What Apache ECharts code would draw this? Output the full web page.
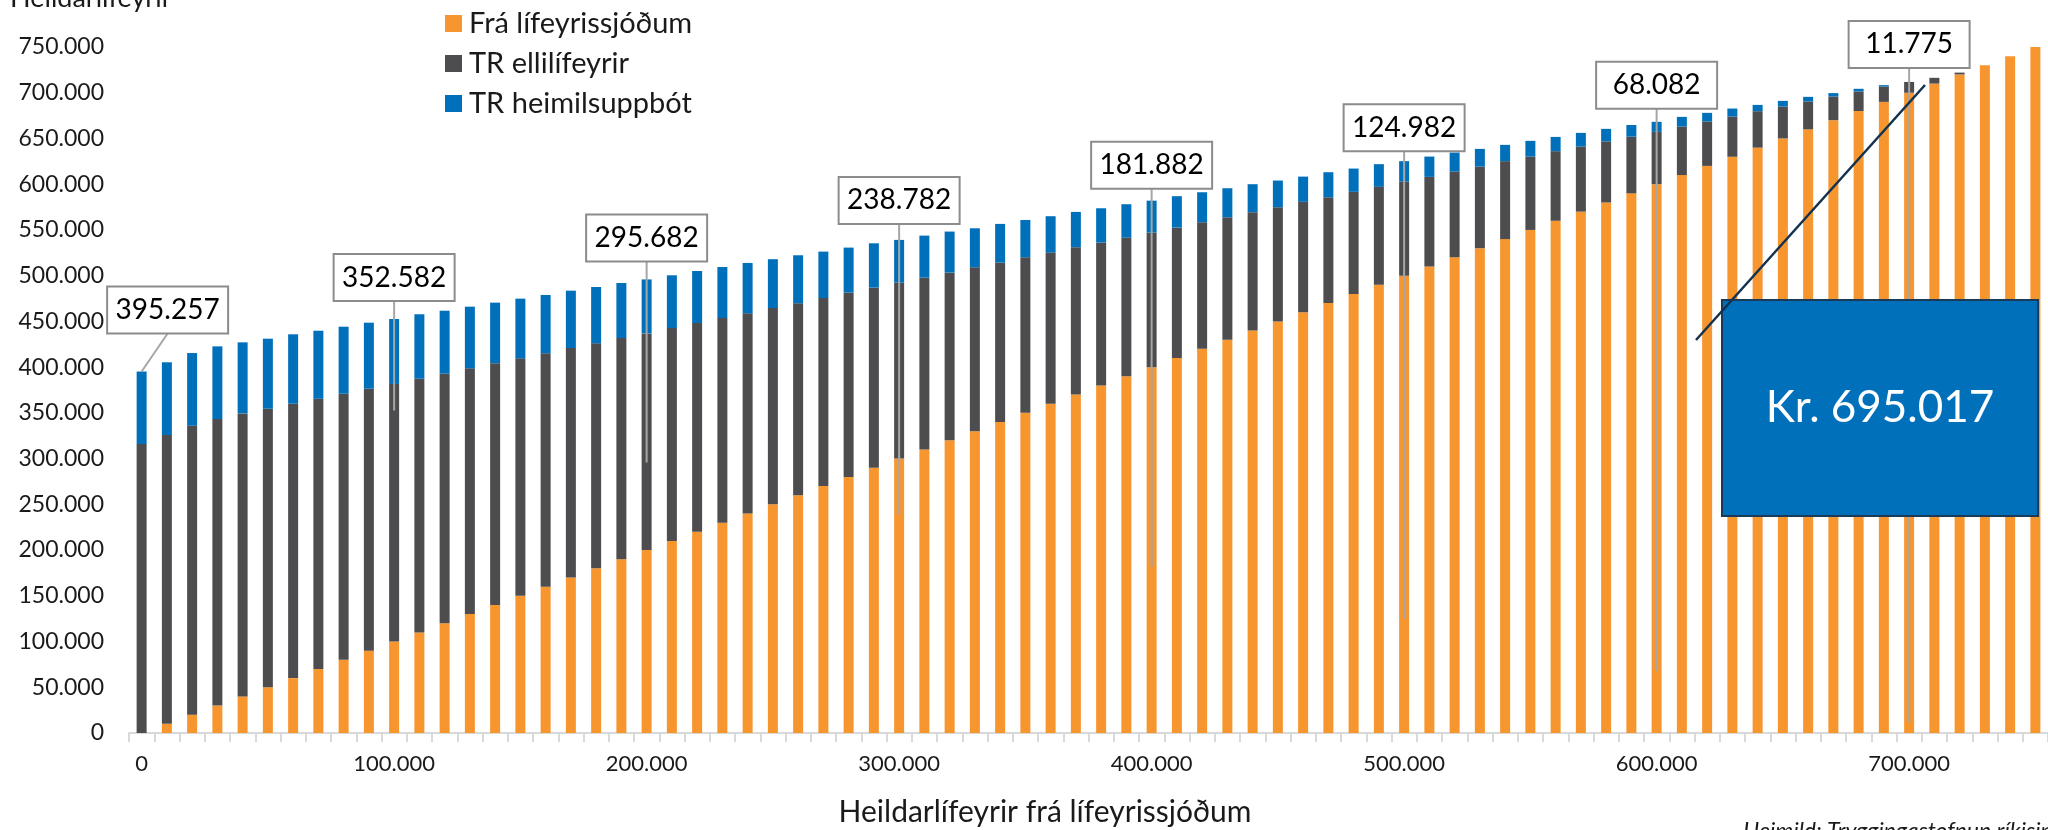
<!DOCTYPE html>
<html><head><meta charset="utf-8">
<script src="https://cdn.jsdelivr.net/npm/echarts@6/dist/echarts.min.js"></script>
<style>html,body{margin:0;padding:0;background:#fff}#c{width:2048px;height:830px}</style>
</head><body><div id="c"></div>
<script>
// ---- data ----
const categories = [0,10000,20000,30000,40000,50000,60000,70000,80000,90000,
  100000,110000,120000,130000,140000,150000,160000,170000,180000,190000,
  200000,210000,220000,230000,240000,250000,260000,270000,280000,290000,
  300000,310000,320000,330000,340000,350000,360000,370000,380000,390000,
  400000,410000,420000,430000,440000,450000,460000,470000,480000,490000,
  500000,510000,520000,530000,540000,550000,560000,570000,580000,590000,
  600000,610000,620000,630000,640000,650000,660000,670000,680000,690000,
  700000,710000,720000,730000,740000,750000];
const fraLifeyrissjodum = [0,10000,20000,30000,40000,50000,60000,70000,80000,90000,
  100000,110000,120000,130000,140000,150000,160000,170000,180000,190000,
  200000,210000,220000,230000,240000,250000,260000,270000,280000,290000,
  300000,310000,320000,330000,340000,350000,360000,370000,380000,390000,
  400000,410000,420000,430000,440000,450000,460000,470000,480000,490000,
  500000,510000,520000,530000,540000,550000,560000,570000,580000,590000,
  600000,610000,620000,630000,640000,650000,660000,670000,680000,690000,
  700000,710000,720000,730000,740000,750000];
const trEllilifeyrir = [315900,315800,315900,313200,309400,304500,300000,295400,290900,286400,
  281600,277300,272800,268700,264300,259600,255100,250900,246000,241800,
  236900,232700,228200,223700,218800,214600,209800,205600,201400,196900,
  192300,187800,183300,179200,174200,170100,165200,161100,156100,151600,
  147000,142500,138400,133900,129400,124800,120700,115800,111600,107100,
  102900,98000,93800,89300,85200,80200,76100,71200,66800,62000,
  57200,53000,48500,44000,39800,34900,30400,25900,21300,16800,
  11800,6300,2000,0,0,0];
const trHeimilisuppbot = [79300,79500,79500,79500,77700,76600,75900,74400,73300,72200,
  71000,70500,68900,67400,66200,65300,63800,62700,61600,60200,
  59000,57700,56900,55800,55100,53400,52500,50700,49300,48500,
  46800,46000,44900,42600,42400,40800,39800,38600,37600,36500,
  35000,34400,32800,31700,30600,29200,27600,27300,25500,24800,
  22300,22200,20800,19300,17800,17200,15600,14900,13700,12700,
  11000,10600,9500,8700,6900,6200,5100,3700,3000,1500,
  0,0,0,0,0,0];
const seriesNames = ['Frá lífeyrissjóðum','TR ellilífeyrir','TR heimilsuppbót'];
const calloutCategories = [0,100000,200000,300000,400000,500000,600000,700000];
const calloutLabels = ['395.257','352.582','295.682','238.782','181.882','124.982','68.082','11.775'];
const calloutValues = [395257,352582,295682,238782,181882,124982,68082,11775];
const highlightLabel = 'Kr. 695.017';
const yAxisTitle = 'Heildarlífeyrir';
const xAxisTitle = 'Heildarlífeyrir frá lífeyrissjóðum';
const sourceText = 'Heimild: Tryggingastofnun ríkisins';

// ---- layout / style ----
const FONT = 'Lato, "Open Sans", sans-serif';
const colors = ['#F7962F','#4D4D4F','#0070BA'];
const boxW = 121, boxH = 47;
const boxDX = [26,0,0,0,0,0,0,0];
const boxGap = [38,18,18,16,12,10,13,14];

function fmt(n){ return String(n).replace(/\B(?=(\d{3})+(?!\d))/g,'.'); }

const chart = echarts.init(document.getElementById('c'));
const stackData = [fraLifeyrissjodum, trEllilifeyrir, trHeimilisuppbot];
chart.setOption({
  animation:false,
  backgroundColor:'#fff',
  grid:{left:129, right:0, top:47, bottom:97, containLabel:false},
  legend:{
    orient:'vertical', left:440, top:4, itemWidth:17, itemHeight:17, itemGap:11,
    icon:'rect', data:seriesNames,
    textStyle:{fontFamily:FONT, fontSize:29, color:'#1a1a1a', lineHeight:29, padding:[0,0,0,2]}
  },
  xAxis:{
    type:'category', data:categories,
    axisLine:{lineStyle:{color:'#D9D9D9', width:2}},
    axisTick:{show:true, interval:0, length:9, lineStyle:{color:'#D9D9D9', width:2}},
    axisLabel:{interval:9, formatter:v=>fmt(v), fontFamily:FONT, fontSize:22, color:'#1a1a1a', margin:20}
  },
  yAxis:{
    type:'value', min:0, max:750000, interval:50000,
    axisLine:{show:false}, axisTick:{show:false}, splitLine:{show:false},
    axisLabel:{formatter:v=>fmt(v), fontFamily:FONT, fontSize:23, color:'#1a1a1a', margin:25}
  },
  series: seriesNames.map((n,i)=>({
    name:n, type:'bar', stack:'total', barWidth:10, data:stackData[i],
    itemStyle:{color:colors[i]}
  }))
});

// ---- annotations ----
const g = [];
calloutCategories.forEach((c,i)=>{
  const idx = categories.indexOf(c);
  const total = fraLifeyrissjodum[idx] + trEllilifeyrir[idx] + trHeimilisuppbot[idx];
  const top = chart.convertToPixel({xAxisIndex:0,yAxisIndex:0},[idx,total]);
  const anchor = chart.convertToPixel({xAxisIndex:0,yAxisIndex:0},[idx,calloutValues[i]]);
  const cx = top[0] + boxDX[i];
  const bottom = top[1] - boxGap[i];
  g.push({type:'line', z:100, shape:{x1:cx, y1:bottom, x2:anchor[0], y2:anchor[1]},
    style:{stroke:'#A6A6A6', lineWidth:2}});
  g.push({type:'rect', z:101, shape:{x:cx-boxW/2, y:bottom-boxH, width:boxW, height:boxH},
    style:{fill:'#fff', stroke:'#8C8C8C', lineWidth:2}});
  g.push({type:'text', z:102, style:{text:calloutLabels[i], x:cx, y:bottom-boxH/2,
    textAlign:'center', textVerticalAlign:'middle', align:'center', verticalAlign:'middle',
    font:'28px '+FONT, fill:'#000'}});
});
// highlight box
g.push({type:'rect', z:110, shape:{x:1722, y:300, width:316, height:216},
  style:{fill:'#0070BA', stroke:'#1B3A57', lineWidth:2}});
g.push({type:'text', z:111, style:{text:highlightLabel, x:1880, y:408,
  textAlign:'center', textVerticalAlign:'middle', align:'center', verticalAlign:'middle',
  font:'44px '+FONT, fill:'#fff'}});
g.push({type:'line', z:112, shape:{x1:1696, y1:340, x2:1925, y2:85},
  style:{stroke:'#13324F', lineWidth:2.5}});
// titles
g.push({type:'text', z:100, style:{text:yAxisTitle, x:10, y:-15, textVerticalAlign:'top', verticalAlign:'top',
  font:'27px '+FONT, fill:'#1a1a1a'}});
g.push({type:'text', z:100, style:{text:xAxisTitle, x:1045, y:812,
  textAlign:'center', textVerticalAlign:'middle', align:'center', verticalAlign:'middle',
  font:'30px '+FONT, fill:'#1a1a1a'}});
g.push({type:'text', z:100, style:{text:sourceText, x:1743, y:820, textVerticalAlign:'top', verticalAlign:'top',
  font:'italic 23px '+FONT, fill:'#1a1a1a'}});
chart.setOption({graphic:{elements:g}});
</script></body></html>
